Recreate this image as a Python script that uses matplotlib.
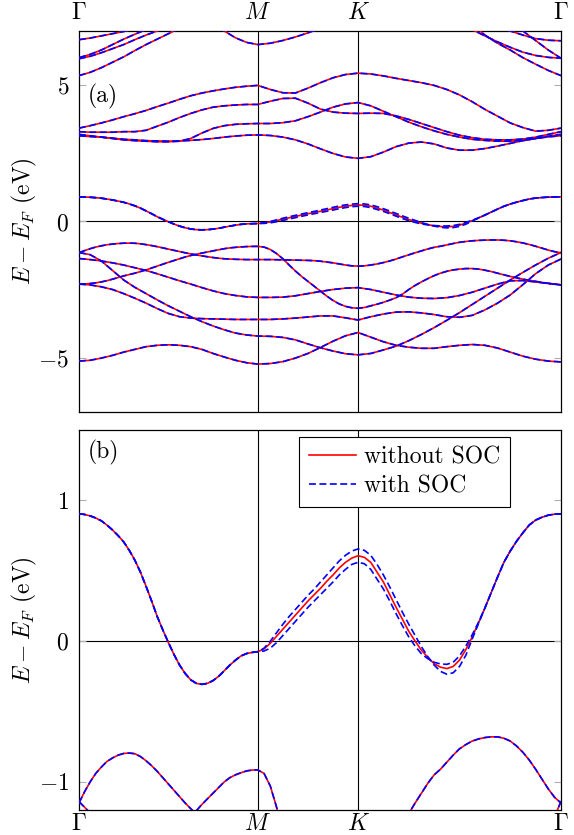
import numpy as np
import matplotlib
matplotlib.use("Agg")
import matplotlib.pyplot as plt
from matplotlib.lines import Line2D

plt.rcParams['font.family'] = 'serif'
plt.rcParams['font.serif'] = ['cmr10']
plt.rcParams['mathtext.fontset'] = 'cm'
plt.rcParams['lines.scale_dashes'] = False

# high symmetry path  G - M - K - G  (fractions of the path length)
k_labels = [r'$\Gamma$', r'$M$', r'$K$', r'$\Gamma$']
k_nodes = [0.0, 0.371, 0.579, 1.0]
# samples per segment (G-M, M-K, K-G)
steps_near = [32, 16, 32]   # bands close to E_F (81 points)
steps_far = [16, 8, 16]     # other bands (41 points)

# ---- bands near the Fermi level (33 + 16 + 32 values) ----
cb = [0.905, 0.90, 0.89, 0.875, 0.855, 0.825, 0.79, 0.75, 0.705, 0.645, 0.575, 0.49, 0.39, 0.285, 0.175, 0.08,
      -0.01, -0.095, -0.17, -0.23, -0.275, -0.30, -0.307, -0.30, -0.28, -0.25, -0.21, -0.17, -0.135, -0.105, -0.088, -0.08, -0.075,
      -0.055, -0.015, 0.035, 0.085, 0.135, 0.185, 0.235, 0.285, 0.33, 0.375, 0.425, 0.47, 0.52, 0.56, 0.59, 0.607,
      0.595, 0.56, 0.49, 0.42, 0.33, 0.24, 0.155, 0.07, 0.0, -0.065, -0.115, -0.16, -0.185, -0.195, -0.18, -0.135,
      -0.06, 0.03, 0.13, 0.235, 0.345, 0.455, 0.56, 0.64, 0.71, 0.77, 0.825, 0.86, 0.88, 0.895, 0.902, 0.905]
cb_soc_a = [0.905, 0.90, 0.89, 0.875, 0.855, 0.825, 0.79, 0.75, 0.705, 0.645, 0.575, 0.49, 0.39, 0.285, 0.175, 0.08,
            -0.01, -0.095, -0.17, -0.23, -0.275, -0.30, -0.307, -0.30, -0.28, -0.25, -0.21, -0.17, -0.135, -0.105, -0.088, -0.08, -0.075,
            -0.05, 0.0, 0.06, 0.12, 0.175, 0.225, 0.275, 0.325, 0.37, 0.42, 0.47, 0.52, 0.57, 0.61, 0.64, 0.655,
            0.645, 0.61, 0.545, 0.47, 0.385, 0.295, 0.205, 0.12, 0.04, -0.04, -0.11, -0.17, -0.215, -0.235, -0.225, -0.18,
            -0.10, 0.015, 0.125, 0.235, 0.345, 0.455, 0.56, 0.64, 0.71, 0.77, 0.825, 0.86, 0.88, 0.895, 0.902, 0.905]
cb_soc_b = [0.905, 0.90, 0.89, 0.875, 0.855, 0.825, 0.79, 0.75, 0.705, 0.645, 0.575, 0.49, 0.39, 0.285, 0.175, 0.08,
            -0.01, -0.095, -0.17, -0.23, -0.275, -0.30, -0.307, -0.30, -0.28, -0.25, -0.21, -0.17, -0.135, -0.105, -0.088, -0.08, -0.075,
            -0.07, -0.05, -0.01, 0.04, 0.09, 0.14, 0.19, 0.24, 0.285, 0.33, 0.375, 0.42, 0.47, 0.51, 0.545, 0.56,
            0.55, 0.51, 0.44, 0.37, 0.285, 0.195, 0.11, 0.03, -0.035, -0.09, -0.125, -0.15, -0.162, -0.165, -0.15, -0.105,
            -0.035, 0.045, 0.135, 0.235, 0.345, 0.455, 0.56, 0.64, 0.71, 0.77, 0.825, 0.86, 0.88, 0.895, 0.902, 0.905]
v1 = [-1.15, -1.07, -1.00, -0.94, -0.895, -0.855, -0.83, -0.81, -0.798, -0.795, -0.80, -0.82, -0.85, -0.885, -0.925, -0.97,
      -1.015, -1.06, -1.105, -1.15, -1.19, -1.23, -1.265, -1.295, -1.325, -1.35, -1.37, -1.38, -1.39, -1.395, -1.40, -1.40, -1.40,
      -1.40, -1.40, -1.405, -1.41, -1.415, -1.42, -1.425, -1.43, -1.44, -1.46, -1.49, -1.52, -1.56, -1.60, -1.63, -1.64,
      -1.63, -1.60, -1.56, -1.51, -1.45, -1.38, -1.30, -1.225, -1.15, -1.08, -1.01, -0.95, -0.91, -0.86, -0.81, -0.765,
      -0.735, -0.71, -0.695, -0.685, -0.68, -0.68, -0.69, -0.71, -0.745, -0.79, -0.845, -0.91, -0.98, -1.05, -1.11, -1.15]
v2 = [-2.30, -2.295, -2.28, -2.255, -2.22, -2.175, -2.12, -2.06, -2.00, -1.95, -1.90, -1.84, -1.78, -1.71, -1.64, -1.57,
      -1.50, -1.435, -1.37, -1.305, -1.25, -1.205, -1.16, -1.12, -1.08, -1.04, -1.00, -0.97, -0.95, -0.935, -0.922, -0.916, -0.915,
      -0.94, -1.03, -1.18, -1.37, -1.60, -1.82, -2.02, -2.20, -2.38, -2.56, -2.74, -2.90, -3.03, -3.12, -3.17, -3.19,
      -3.16, -3.10, -3.04, -2.97, -2.89, -2.80, -2.67, -2.50, -2.35, -2.22, -2.10, -1.99, -1.90, -1.83, -1.78, -1.75,
      -1.73, -1.73, -1.75, -1.79, -1.84, -1.90, -1.96, -2.02, -2.07, -2.12, -2.16, -2.20, -2.24, -2.27, -2.30, -2.33]

# ---- other bands (17 + 8 + 16 values) ----
v3 = [-1.36, -1.40, -1.45, -1.52, -1.60, -1.70, -1.80, -1.92, -2.05, -2.18, -2.30, -2.43, -2.55, -2.65, -2.72, -2.77, -2.79,
      -2.79, -2.78, -2.73, -2.65, -2.57, -2.50, -2.45, -2.43,
      -2.50, -2.60, -2.70, -2.78, -2.82, -2.83, -2.80, -2.72, -2.60, -2.45, -2.30, -2.18, -2.17, -2.22, -2.28, -2.33]
v4 = [-1.14, -1.22, -1.45, -1.80, -2.15, -2.42, -2.65, -2.88, -3.10, -3.30, -3.50, -3.68, -3.84, -3.98, -4.10, -4.17, -4.21,
      -4.22, -4.26, -4.35, -4.50, -4.64, -4.76, -4.86, -4.90,
      -4.85, -4.72, -4.58, -4.38, -4.15, -3.90, -3.63, -3.35, -3.05, -2.75, -2.45, -2.15, -1.87, -1.60, -1.35, -1.14]
v5 = [-2.30, -2.33, -2.40, -2.50, -2.65, -2.82, -3.00, -3.20, -3.38, -3.50, -3.55, -3.57, -3.58, -3.59, -3.60, -3.60, -3.60,
      -3.60, -3.58, -3.55, -3.51, -3.47, -3.47, -3.54, -3.62,
      -3.50, -3.40, -3.33, -3.32, -3.36, -3.42, -3.50, -3.52, -3.45, -3.25, -3.00, -2.70, -2.32, -1.92, -1.60, -1.38]
v6 = [-5.13, -5.10, -5.02, -4.92, -4.80, -4.70, -4.60, -4.55, -4.53, -4.55, -4.60, -4.70, -4.85, -4.98, -5.10, -5.19, -5.24,
      -5.22, -5.15, -5.02, -4.85, -4.63, -4.40, -4.20, -4.08,
      -4.25, -4.42, -4.55, -4.62, -4.66, -4.66, -4.60, -4.55, -4.52, -4.55, -4.65, -4.80, -4.95, -5.06, -5.13, -5.16]
u1 = [3.43, 3.52, 3.62, 3.73, 3.85, 3.96, 4.08, 4.22, 4.35, 4.49, 4.62, 4.72, 4.80, 4.87, 4.93, 4.97, 5.00,
      4.85, 4.73, 4.72, 4.90, 5.10, 5.28, 5.40, 5.45,
      5.42, 5.35, 5.26, 5.18, 5.10, 5.00, 4.85, 4.65, 4.40, 4.12, 3.87, 3.62, 3.45, 3.32, 3.35, 3.43]
u2 = [3.30, 3.28, 3.28, 3.28, 3.30, 3.30, 3.35, 3.50, 3.65, 3.82, 3.97, 4.10, 4.20, 4.25, 4.28, 4.30, 4.30,
      4.42, 4.52, 4.53, 4.35, 4.13, 4.02, 3.98, 3.97,
      3.98, 3.97, 3.88, 3.75, 3.60, 3.45, 3.30, 3.17, 3.08, 3.02, 3.00, 3.00, 3.03, 3.10, 3.20, 3.30]
u3 = [3.20, 3.15, 3.10, 3.05, 3.00, 2.97, 2.95, 2.93, 2.93, 2.95, 3.05, 3.25, 3.42, 3.52, 3.57, 3.59, 3.60,
      3.60, 3.63, 3.70, 3.85, 4.02, 4.20, 4.32, 4.37,
      4.25, 4.05, 3.85, 3.65, 3.48, 3.33, 3.20, 3.10, 3.02, 2.98, 2.95, 2.95, 2.98, 3.05, 3.13, 3.20]
u4 = [3.15, 3.12, 3.10, 3.06, 3.02, 3.00, 2.97, 2.96, 2.95, 2.96, 2.98, 3.01, 3.05, 3.10, 3.14, 3.17, 3.18,
      3.16, 3.10, 3.00, 2.85, 2.67, 2.50, 2.37, 2.32,
      2.38, 2.55, 2.75, 2.88, 2.92, 2.85, 2.70, 2.62, 2.62, 2.68, 2.77, 2.87, 2.97, 3.05, 3.11, 3.15]
t1 = [6.68, 6.74, 6.82, 6.90, 6.98, 7.08, 7.20, 7.35, 7.50, 7.65, 7.80, 7.8, 7.8, 7.8, 7.8, 7.8, 7.8,
      7.8, 7.8, 7.8, 7.8, 7.8, 7.8, 7.8, 7.8,
      7.8, 7.8, 7.8, 7.8, 7.8, 7.8, 7.8, 7.8, 7.60, 7.35, 7.15, 7.00, 6.85, 6.72, 6.66, 6.64]
t2 = [6.02, 6.14, 6.30, 6.50, 6.70, 6.88, 7.05, 7.22, 7.40, 7.60, 7.80, 7.8, 7.8, 7.8, 7.8, 7.8, 7.8,
      7.8, 7.8, 7.8, 7.8, 7.8, 7.8, 7.8, 7.8,
      7.8, 7.8, 7.8, 7.8, 7.8, 7.8, 7.8, 7.50, 7.05, 6.82, 6.60, 6.40, 6.22, 6.10, 6.03, 6.00]
t3 = [5.98, 6.07, 6.20, 6.35, 6.50, 6.68, 6.85, 7.00, 7.15, 7.30, 7.50, 7.70, 7.8, 7.8, 7.8, 7.8, 7.8,
      7.8, 7.8, 7.8, 7.8, 7.8, 7.8, 7.8, 7.8,
      7.8, 7.8, 7.8, 7.8, 7.8, 7.8, 7.8, 7.8, 7.8, 7.8, 7.60, 7.30, 7.00, 6.65, 6.30, 6.00]
t4 = [5.36, 5.48, 5.65, 5.85, 6.05, 6.28, 6.50, 6.70, 6.90, 7.10, 7.30, 7.50, 7.70, 7.8, 7.8, 7.8, 7.8,
      7.8, 7.8, 7.8, 7.8, 7.8, 7.8, 7.8, 7.8,
      7.8, 7.8, 7.8, 7.8, 7.8, 7.8, 7.8, 7.70, 7.25, 6.85, 6.55, 6.30, 6.02, 5.78, 5.55, 5.36]
t5 = [7.8, 7.8, 7.8, 7.8, 7.8, 7.8, 7.8, 7.8, 7.8, 7.8, 7.8, 7.55, 7.25, 7.00, 6.75, 6.58, 6.50,
      6.55, 6.65, 6.78, 6.93, 7.10, 7.30, 7.50, 7.70,
      7.8, 7.8, 7.8, 7.8, 7.8, 7.8, 7.8, 7.8, 7.8, 7.8, 7.8, 7.8, 7.8, 7.8, 7.8, 7.8]


def path_grid(steps):
    pts = [k_nodes[0]]
    for i, n in enumerate(steps):
        pts.extend(np.linspace(k_nodes[i], k_nodes[i + 1], n + 1)[1:])
    return np.array(pts)


k_near = path_grid(steps_near)
k_far = path_grid(steps_far)

far_bands = [t1, t2, t3, t4, t5, u1, u2, u3, u4, v3, v4, v5, v6]
near_bands = [cb, v1, v2]
near_bands_soc = [cb_soc_a, cb_soc_b, v1, v2]

fig = plt.figure(figsize=(5.74, 8.35), dpi=100)
ax_a = fig.add_axes([0.1376, 0.5066, 0.8397, 0.4563])
ax_b = fig.add_axes([0.1376, 0.0299, 0.8397, 0.4551])

red_kw = dict(color='#ff0000', lw=1.2, zorder=3)
blue_kw = dict(color='#0000ff', lw=1.2, ls='--', dashes=(5, 2.5), zorder=4)

for ax in (ax_a, ax_b):
    for xv in k_nodes[1:3]:
        ax.axvline(xv, color='black', lw=0.8, zorder=1)
    ax.axhline(0, color='black', lw=0.8, zorder=1)
    for b in far_bands:
        ax.plot(k_far, b, **red_kw)
    for b in near_bands:
        ax.plot(k_near, b, **red_kw)
    for b in far_bands:
        ax.plot(k_far, b, **blue_kw)
    for b in near_bands_soc:
        ax.plot(k_near, b, **blue_kw)
    ax.set_xlim(0, 1)
    ax.set_xticks(k_nodes)
    ax.set_xticklabels(k_labels, fontsize=17)
    ax.tick_params(axis='y', direction='in', length=5, width=0.8, color='#b0b0b0',
                   left=True, right=True, labelsize=17, pad=7)
    for s in ax.spines.values():
        s.set_linewidth(0.9)
    ax.set_ylabel(r'$E - E_F$ (eV)', fontsize=17)
    ax.yaxis.set_label_coords(-0.082, 0.5)

ax_a.set_ylim(-7, 7)
ax_a.set_yticks([-5, 0, 5])
ax_a.set_yticklabels([r'$-5$', r'$0$', r'$5$'])
ax_a.xaxis.tick_top()
ax_a.tick_params(axis='x', length=0, pad=5)
ax_a.text(0.018, 0.827, '(a)', transform=ax_a.transAxes, fontsize=17, ha='left', va='center')

ax_b.set_ylim(-1.2, 1.5)
ax_b.set_yticks([-1, 0, 1])
ax_b.set_yticklabels([r'$-1$', r'$0$', r'$1$'])
ax_b.tick_params(axis='x', length=0, pad=2)
ax_b.text(0.018, 0.942, '(b)', transform=ax_b.transAxes, fontsize=17, ha='left', va='center')

handles = [Line2D([], [], **red_kw), Line2D([], [], **blue_kw)]
leg = ax_b.legend(handles, ['without SOC', 'with SOC'], loc='upper right',
                  bbox_to_anchor=(0.894, 0.982), borderaxespad=0, fontsize=17,
                  fancybox=False, framealpha=1, edgecolor='black', handlelength=2.0,
                  handletextpad=0.35, borderpad=0.4, labelspacing=0.3)
leg.get_frame().set_linewidth(0.8)

fig.savefig('out.png', dpi=100)
